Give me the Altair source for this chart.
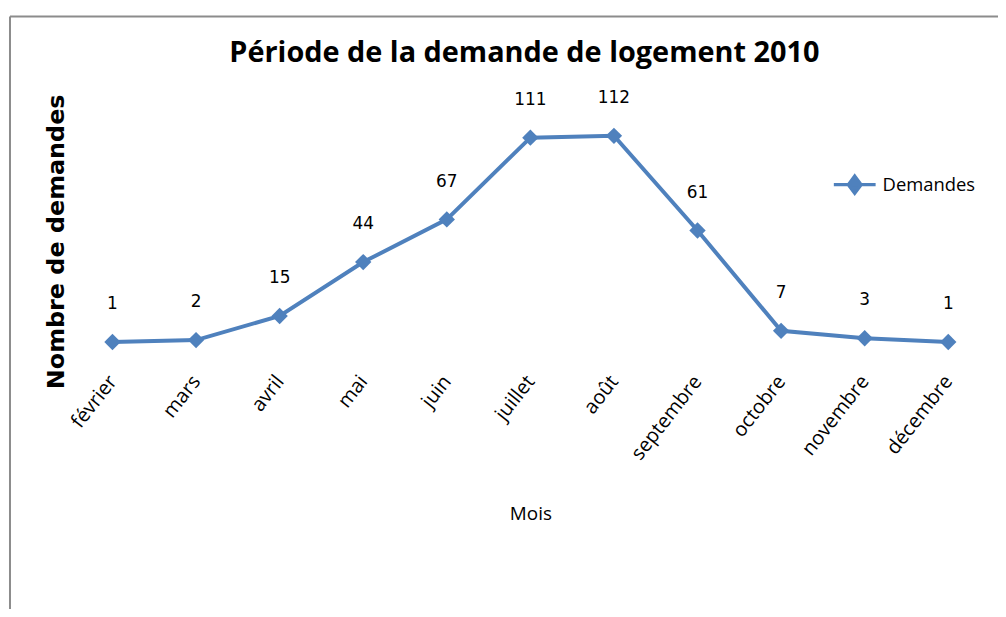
import altair as alt
import pandas as pd

mois = ["février", "mars", "avril", "mai", "juin", "juillet", "août",
        "septembre", "octobre", "novembre", "décembre"]
demandes = [1, 2, 15, 44, 67, 111, 112, 61, 7, 3, 1]
serie = ["Demandes"] * len(mois)

df = pd.DataFrame({"Mois": mois, "Demandes": demandes, "Série": serie})

BLUE = "#4F81BD"
GRAY = "#8C8C8C"

legend_path = "M-1,0L1,0M0,-0.4L0.3,0L0,0.4L-0.3,0Z"

x = alt.X(
    "Mois:N", sort=mois,
    scale=alt.Scale(type="point", padding=0.5),
    axis=alt.Axis(
        title="Mois", labelAngle=-52, labelAlign="right", labelBaseline="middle",
        labelPadding=34, labelFont="Open Sans", labelFontSize=20, labelColor="#000",
        domain=False, ticks=False, grid=False,
        titleFont="Open Sans", titleFontSize=19, titleFontWeight=500, titleColor="#000",
        titleY=177, titleBaseline="alphabetic",
    ),
)
y = alt.Y(
    "Demandes:Q",
    scale=alt.Scale(domain=[0, 120]),
    axis=alt.Axis(
        title="Nombre de demandes", labels=False, ticks=False, domain=False, grid=False,
        titleFont="DejaVu Sans", titleFontSize=24, titleFontWeight="bold", titleColor="#000",
        titleAngle=270, titleX=-2, titleY=121, titleAlign="center", titleBaseline="bottom",
    ),
)
color = alt.Color(
    "Série:N",
    scale=alt.Scale(domain=["Demandes"], range=[BLUE]),
    legend=alt.Legend(
        title=None, orient="none", legendX=765, legendY=41, padding=0,
        symbolType=legend_path, symbolSize=1764, symbolStrokeWidth=3.5,
        symbolFillColor=BLUE, symbolStrokeColor=BLUE,
        labelFont="Open Sans", labelFontSize=18.5, labelColor="#000", labelOffset=5,
    ),
)

base = alt.Chart(df)

line = base.mark_line(strokeWidth=4).encode(x=x, y=y, color=color)
points = base.mark_point(shape="diamond", size=270, filled=True, opacity=1).encode(
    x=x, y=y, color=alt.Color("Série:N", scale=alt.Scale(domain=["Demandes"], range=[BLUE]), legend=None)
)
labels = base.mark_text(dy=-38, font="DejaVu Sans", fontSize=17, color="#000").encode(
    x=x, y=y, text="Demandes:Q"
)

frame_df = pd.DataFrame({"k": [0]})
frame_top = alt.Chart(frame_df).mark_rule(color=GRAY, strokeWidth=2).encode(
    x=alt.value(-61), x2=alt.value(940), y=alt.value(-105)
)
frame_left = alt.Chart(frame_df).mark_rule(color=GRAY, strokeWidth=2).encode(
    x=alt.value(-61), y=alt.value(-105), y2=alt.value(510)
)

chart = alt.layer(frame_top, frame_left, line, points, labels).properties(
    width=924, height=224,
    title=alt.TitleParams(
        "Période de la demande de logement 2010",
        font="Open Sans", fontSize=29, fontWeight="bold", color="#000",
        anchor="middle", dx=-6, offset=-76, baseline="alphabetic",
    ),
    autosize=alt.AutoSizeParams(type="none"),
    padding={"left": 63, "top": 112, "right": 8, "bottom": 265},
).configure_view(stroke=None)

chart.save("out.html", embed_options={"renderer": "svg", "actions": False})
